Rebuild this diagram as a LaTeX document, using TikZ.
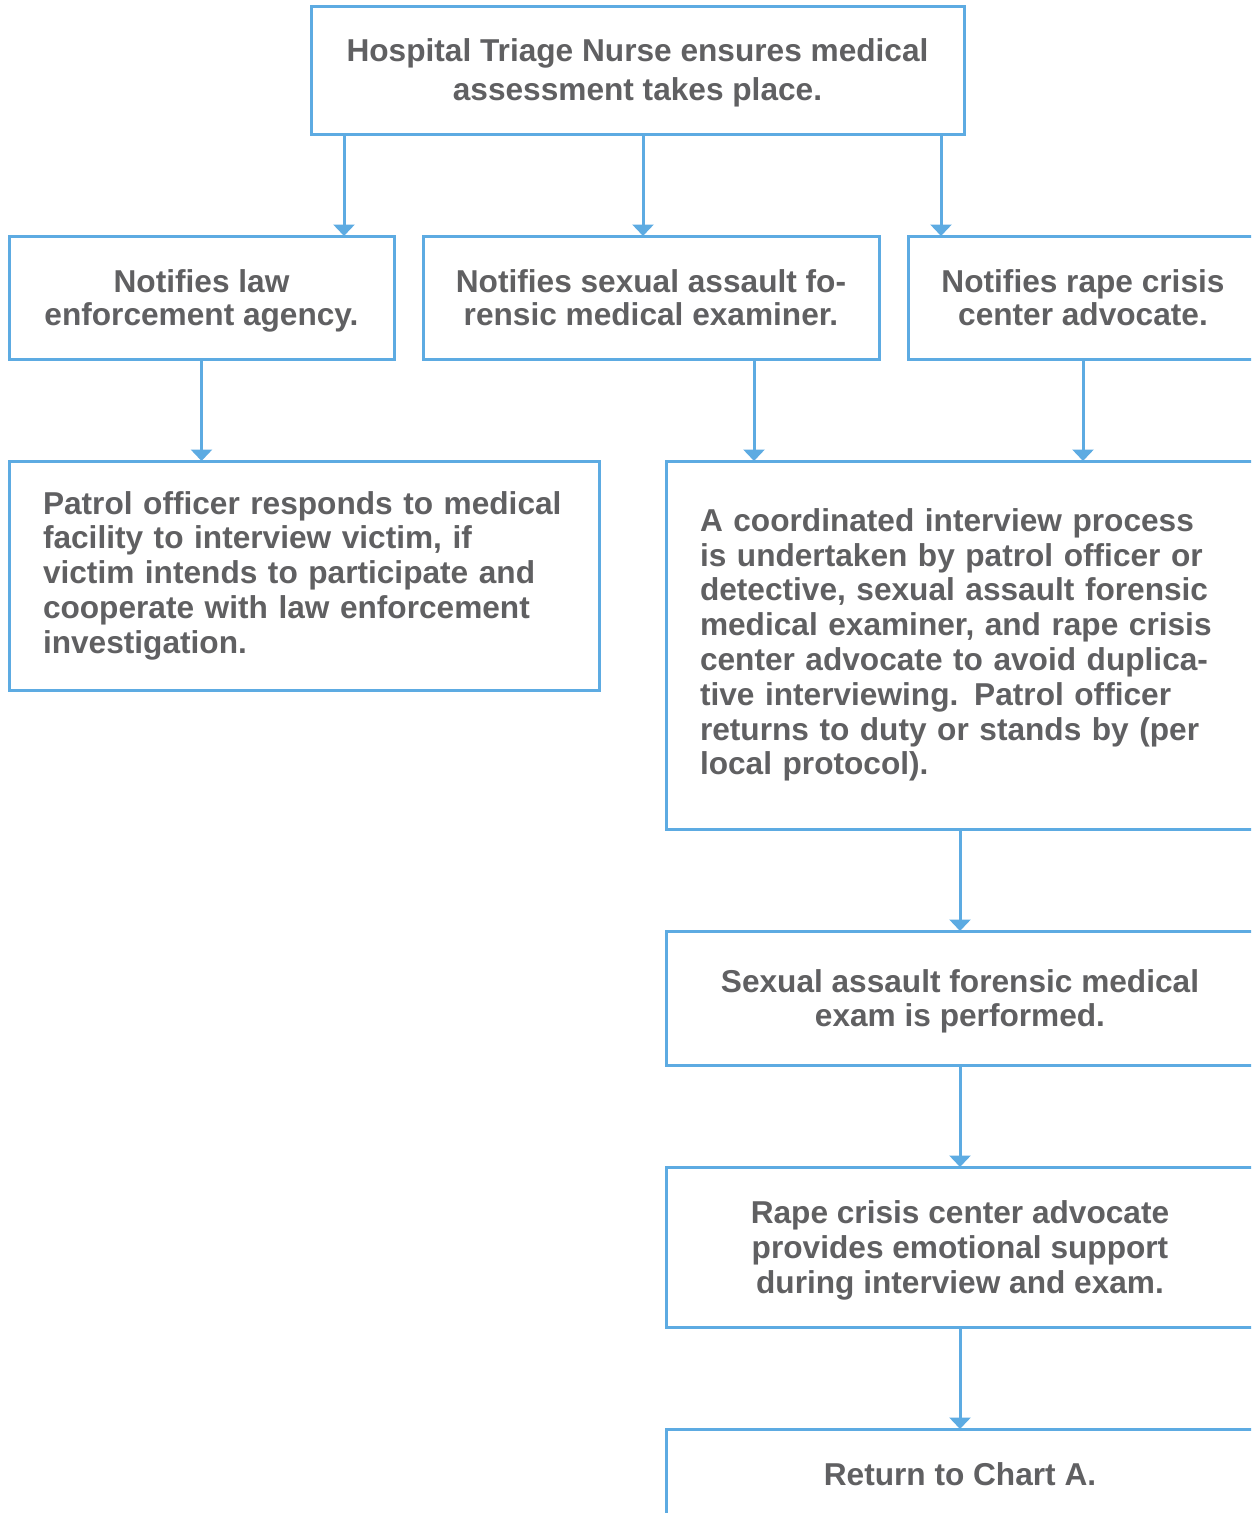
\documentclass[tikz,border=0pt]{standalone}
\usepackage{fontspec}
\setmainfont{Liberation Sans}
\usetikzlibrary{arrows.meta, positioning}

\definecolor{lineblue}{RGB}{93,171,226}
\definecolor{textgray}{RGB}{96,96,98}

\begin{document}
\begin{tikzpicture}[
    x=0.2mm, y=-0.2mm,
    frame/.style = {draw=lineblue, line width=0.6mm, outer sep=0pt, inner sep=0pt,
                    anchor=north west, text=textgray,
                    font=\bfseries\fontsize{18}{19}\selectfont},
    box/.style   = {frame, align=center, text depth=0pt},
    lbox/.style  = {frame, align=left},
    arr/.style   = {draw=lineblue, line width=0.6mm,
                    -{Triangle[length=2.3mm, width=4.2mm]}},
]

%% ---- Page frame (boxes run off the right and bottom edges) ----
\clip (0,0) rectangle (1251,1513);
\useasboundingbox (0,0) rectangle (1251,1513);

%% ---- Arrow columns ----
\coordinate (cA) at (344,0);
\coordinate (cB) at (643,0);
\coordinate (cC) at (941,0);
\coordinate (cD) at (754,0);

%% ---- Boxes ----
\node[box, minimum width=130.6mm, minimum height=25.6mm,
      font=\bfseries\fontsize{18}{22.2}\selectfont] (nurse) at (311,6)
    {Hospital Triage Nurse ensures medical\\assessment takes place.};

\node[box, minimum width=77mm, minimum height=24.6mm] (law) at (9,236)
    {Notifies law\\enforcement agency.};
\node[box, minimum width=91.2mm, minimum height=24.6mm] (safe) at (423,236)
    {Notifies sexual assault fo-\\rensic medical examiner.};
\node[box, minimum width=70mm, minimum height=24.6mm] (rcc) at (908,236)
    {Notifies rape crisis\\center advocate.};

\node[lbox, minimum width=118mm, minimum height=45.8mm, text width=104.4mm,
      font=\bfseries\fontsize{18}{19.8}\selectfont] (patrol) at (9,461)
    {Patrol officer responds to medical\\
     facility to interview victim, if\\
     victim intends to participate and\\
     cooperate with law enforcement\\
     investigation.};

\node[lbox, minimum width=117.6mm, minimum height=73.6mm, text width=104mm,
      font=\bfseries\fontsize{18}{19.8}\selectfont] (interview) at (666,461)
    {A coordinated interview process\\
     is undertaken by patrol officer or\\
     detective, sexual assault forensic\\
     medical examiner, and rape crisis\\
     center advocate to avoid duplica-\\
     tive interviewing. Patrol officer\\
     returns to duty or stands by (per\\
     local protocol).};

\node[box, minimum width=117.6mm, minimum height=26.8mm] (exam) at (666,931)
    {Sexual assault forensic medical\\exam is performed.};

\node[box, minimum width=117.6mm, minimum height=32mm,
      font=\bfseries\fontsize{18}{19.7}\selectfont] (support) at (666,1167)
    {Rape crisis center advocate\\provides emotional support\\during interview and exam.};

\node[box, minimum width=117.6mm, minimum height=18mm] (chartA) at (666,1429)
    {Return to Chart A.};

%% ---- Connectors ----
\draw[arr] (nurse.south -| cA) -- (law.north -| cA);
\draw[arr] (nurse.south -| cB) -- (safe.north -| cB);
\draw[arr] (nurse.south -| cC) -- (rcc.north -| cC);
\draw[arr] (law.south) -- (patrol.north -| law.south);
\draw[arr] (safe.south -| cD) -- (interview.north -| cD);
\draw[arr] (rcc.south) -- (interview.north -| rcc.south);
\draw[arr] (interview.south) -- (exam.north);
\draw[arr] (exam.south) -- (support.north);
\draw[arr] (support.south) -- (chartA.north);

\end{tikzpicture}
\end{document}
